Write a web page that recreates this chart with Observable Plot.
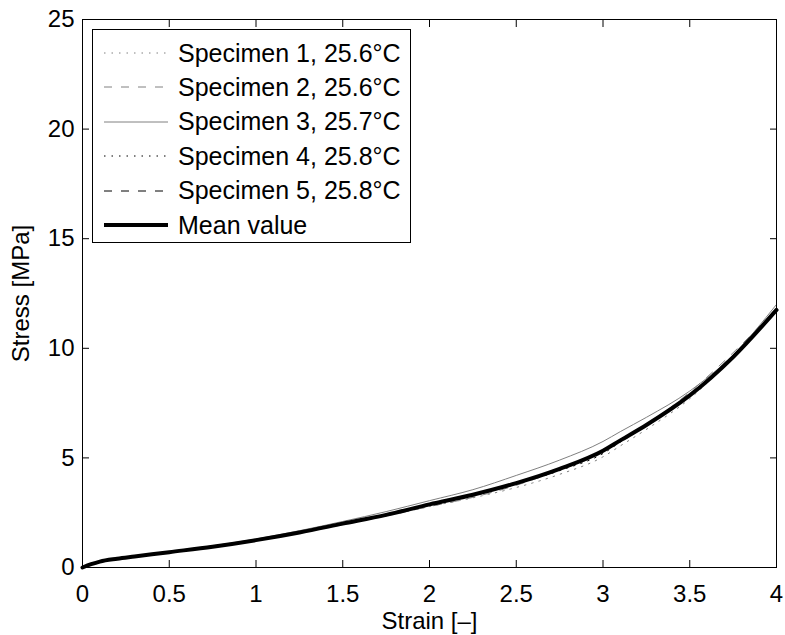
<!DOCTYPE html>
<html>
<head>
<meta charset="utf-8">
<script src="https://cdn.jsdelivr.net/npm/d3@7"></script>
<script src="https://cdn.jsdelivr.net/npm/@observablehq/plot@0.6"></script>
<style>
  html, body { margin: 0; padding: 0; background: #fff; }
  #wrap { position: relative; width: 785px; height: 635px; font-family: "Liberation Sans", Arial, sans-serif; }
  #legend { position: absolute; left: 92px; top: 29px; width: 319px; height: 214px; border: 1px solid #000; background: #fff; box-sizing: border-box; }
  .row { position: absolute; left: 0; height: 34px; display: flex; align-items: center; font-size: 25px; color: #000; white-space: nowrap; }
  .row svg { margin-left: 11px; margin-right: 10px; }
</style>
</head>
<body>
<div id="wrap"><div id="chart"></div><div id="legend"></div></div>
<script>
const strain = [0, 0.05, 0.1, 0.2, 0.3, 0.5, 0.75, 1, 1.25, 1.5, 1.75, 2, 2.25, 2.5, 2.75, 3, 3.1, 3.25, 3.5, 3.75, 4];
const spec1 = [0, 0.14, 0.25, 0.38, 0.49, 0.69, 0.94, 1.23, 1.57, 1.96, 2.35, 2.78, 3.18, 3.65, 4.25, 5.05, 5.55, 6.3, 7.7, 9.6, 11.7];
const spec2 = [0, 0.15, 0.27, 0.4, 0.5, 0.7, 0.95, 1.24, 1.58, 1.97, 2.36, 2.78, 3.2, 3.75, 4.45, 5.25, 5.75, 6.5, 8.0, 9.8, 11.8];
const spec3 = [0, 0.16, 0.29, 0.42, 0.53, 0.73, 0.99, 1.3, 1.68, 2.1, 2.55, 3.05, 3.55, 4.2, 4.9, 5.75, 6.2, 6.85, 8.05, 9.7, 12.0];
const spec4 = [0, 0.15, 0.27, 0.4, 0.5, 0.7, 0.95, 1.25, 1.6, 1.99, 2.39, 2.83, 3.27, 3.8, 4.42, 5.2, 5.72, 6.45, 7.85, 9.65, 11.8];
const spec5 = [0, 0.15, 0.27, 0.4, 0.5, 0.7, 0.95, 1.25, 1.6, 2.0, 2.4, 2.85, 3.3, 3.85, 4.5, 5.3, 5.8, 6.55, 7.9, 9.7, 11.75];
const mean  = [0, 0.15, 0.27, 0.4, 0.5, 0.7, 0.95, 1.25, 1.6, 2.0, 2.4, 2.88, 3.32, 3.85, 4.5, 5.33, 5.8, 6.5, 7.85, 9.6, 11.75];

const seriesNames = ["Specimen 1, 25.6°C", "Specimen 2, 25.6°C", "Specimen 3, 25.7°C", "Specimen 4, 25.8°C", "Specimen 5, 25.8°C", "Mean value"];
const seriesValues = [spec1, spec2, spec3, spec4, spec5, mean];
const seriesStyle = [
  {stroke: "#808080", strokeWidth: 1, strokeDasharray: "1.5,6"},
  {stroke: "#808080", strokeWidth: 1, strokeDasharray: "8,9"},
  {stroke: "#808080", strokeWidth: 1, strokeDasharray: null},
  {stroke: "#000000", strokeWidth: 1, strokeDasharray: "1.5,6"},
  {stroke: "#000000", strokeWidth: 1, strokeDasharray: "8,9"},
  {stroke: "#000000", strokeWidth: 4, strokeDasharray: null}
];
const xTicks = [0, 0.5, 1, 1.5, 2, 2.5, 3, 3.5, 4];
const yTicks = [0, 5, 10, 15, 20, 25];

const lineMarks = seriesValues.map((vals, i) => {
  const data = strain.map((s, j) => ({strain: s, stress: vals[j]}));
  const st = seriesStyle[i];
  const opts = {x: "strain", y: "stress", stroke: st.stroke, strokeWidth: st.strokeWidth, curve: "monotone-x"};
  if (st.strokeDasharray) opts.strokeDasharray = st.strokeDasharray;
  return Plot.line(data, opts);
});

const fmt = (d) => String(d);

const chart = Plot.plot({
  width: 785,
  height: 635,
  marginLeft: 82,
  marginRight: 9,
  marginTop: 19,
  marginBottom: 68,
  style: {fontFamily: "'Liberation Sans', Arial, sans-serif", fontSize: "24px", background: "#fff", color: "#000", overflow: "visible"},
  x: {domain: [0, 4]},
  y: {domain: [0, 25]},
  marks: [
    ...lineMarks,
    Plot.frame({stroke: "#000", strokeWidth: 1}),
    Plot.axisX(xTicks, {anchor: "bottom", tickSize: -7, tickPadding: 24, fontSize: 24, tickFormat: fmt, label: "Strain [–]", labelAnchor: "center", labelArrow: "none", labelOffset: 61}),
    Plot.axisX(xTicks, {anchor: "top", tickSize: -7, tickFormat: () => "", label: null}),
    Plot.axisY(yTicks, {anchor: "left", tickSize: -7, tickPadding: 15, fontSize: 24, tickFormat: fmt, label: "Stress [MPa]", labelAnchor: "center", labelArrow: "none", labelOffset: 71}),
    Plot.axisY(yTicks, {anchor: "right", tickSize: -7, tickFormat: () => "", label: null})
  ]
});
document.getElementById("chart").appendChild(chart);

const legend = document.getElementById("legend");
seriesNames.forEach((name, i) => {
  const st = seriesStyle[i];
  const row = document.createElement("div");
  row.className = "row";
  row.style.top = (6 + i * 34.4) + "px";
  const svgNS = "http://www.w3.org/2000/svg";
  const svg = document.createElementNS(svgNS, "svg");
  svg.setAttribute("width", "64");
  svg.setAttribute("height", "10");
  const ln = document.createElementNS(svgNS, "line");
  ln.setAttribute("x1", "0"); ln.setAttribute("x2", "64");
  ln.setAttribute("y1", "5"); ln.setAttribute("y2", "5");
  ln.setAttribute("stroke", st.stroke);
  ln.setAttribute("stroke-width", st.strokeWidth);
  if (st.strokeDasharray) ln.setAttribute("stroke-dasharray", st.strokeDasharray);
  svg.appendChild(ln);
  row.appendChild(svg);
  const span = document.createElement("span");
  span.textContent = name;
  row.appendChild(span);
  legend.appendChild(row);
});
</script>
</body>
</html>
